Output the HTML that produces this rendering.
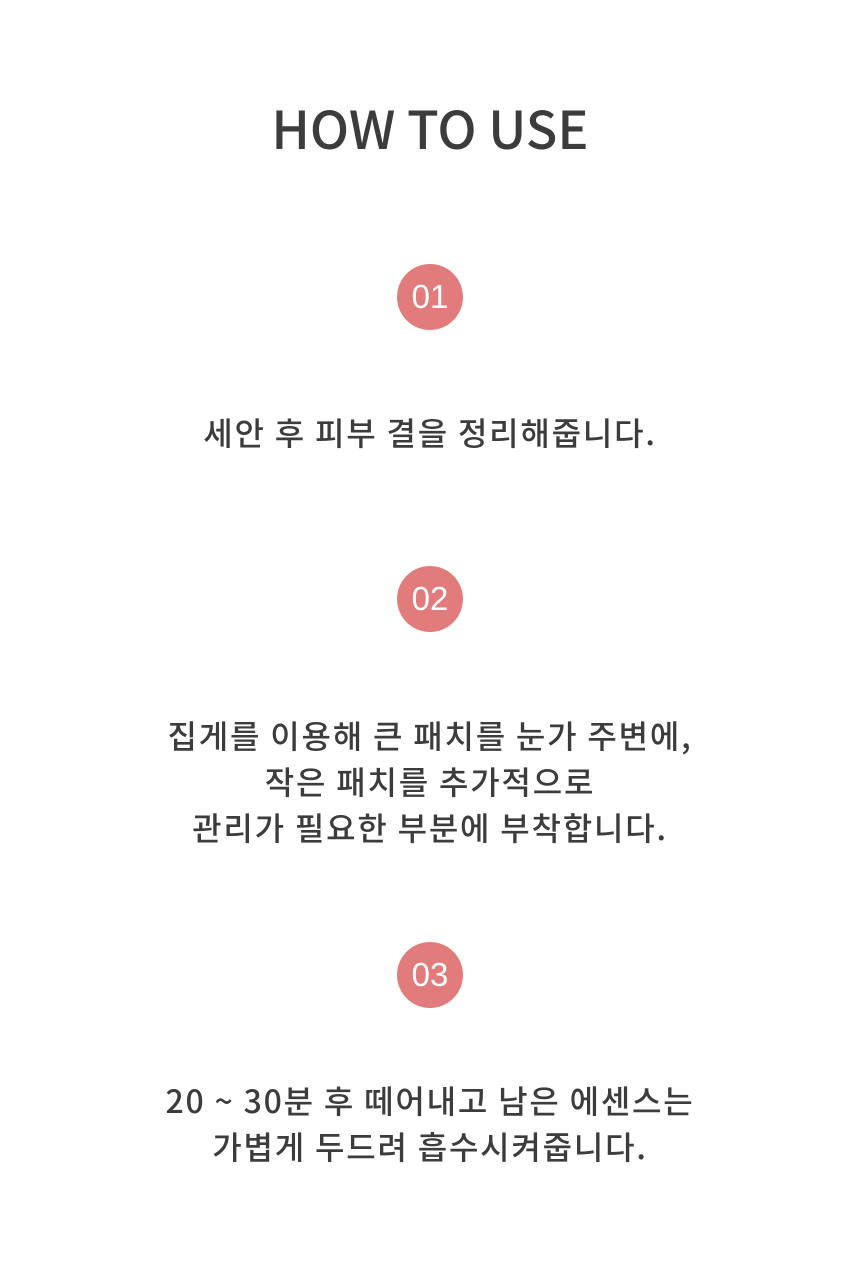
<!DOCTYPE html>
<html><head><meta charset="utf-8"><style>
body{margin:0;width:860px;height:1264px;background:#fff;position:relative;overflow:hidden;font-family:"Liberation Sans","Noto Sans CJK KR",sans-serif;}
.t{position:absolute;left:0;width:860px;text-align:center;color:#3c3c3c;}
h1{position:absolute;left:0;width:860px;top:92px;margin:0;text-align:center;font-family:"Noto Sans CJK KR","Liberation Sans",sans-serif;font-weight:500;font-size:52px;line-height:70px;color:#3c3c3c;}
.c{position:absolute;left:397px;width:66px;height:66px;border-radius:50%;background:#e27c7c;color:#fff;font-size:33px;line-height:66px;text-align:center;font-family:"Liberation Sans",sans-serif;}
.p{font-family:"Noto Sans CJK KR","Liberation Sans",sans-serif;font-size:32px;letter-spacing:1.8px;line-height:46px;font-weight:500;}
</style></head><body>
<h1>HOW TO USE</h1>
<div class="c" style="top:264px">01</div>
<div class="t p" style="top:409px">세안 후 피부 결을 정리해줍니다.</div>
<div class="c" style="top:566px">02</div>
<div class="t p" style="top:712px">집게를 이용해 큰 패치를 눈가 주변에,<br>작은 패치를 추가적으로<br>관리가 필요한 부분에 부착합니다.</div>
<div class="c" style="top:942px">03</div>
<div class="t p" style="top:1077px">20 ~ 30분 후 떼어내고 남은 에센스는<br>가볍게 두드려 흡수시켜줍니다.</div>
</body></html>
